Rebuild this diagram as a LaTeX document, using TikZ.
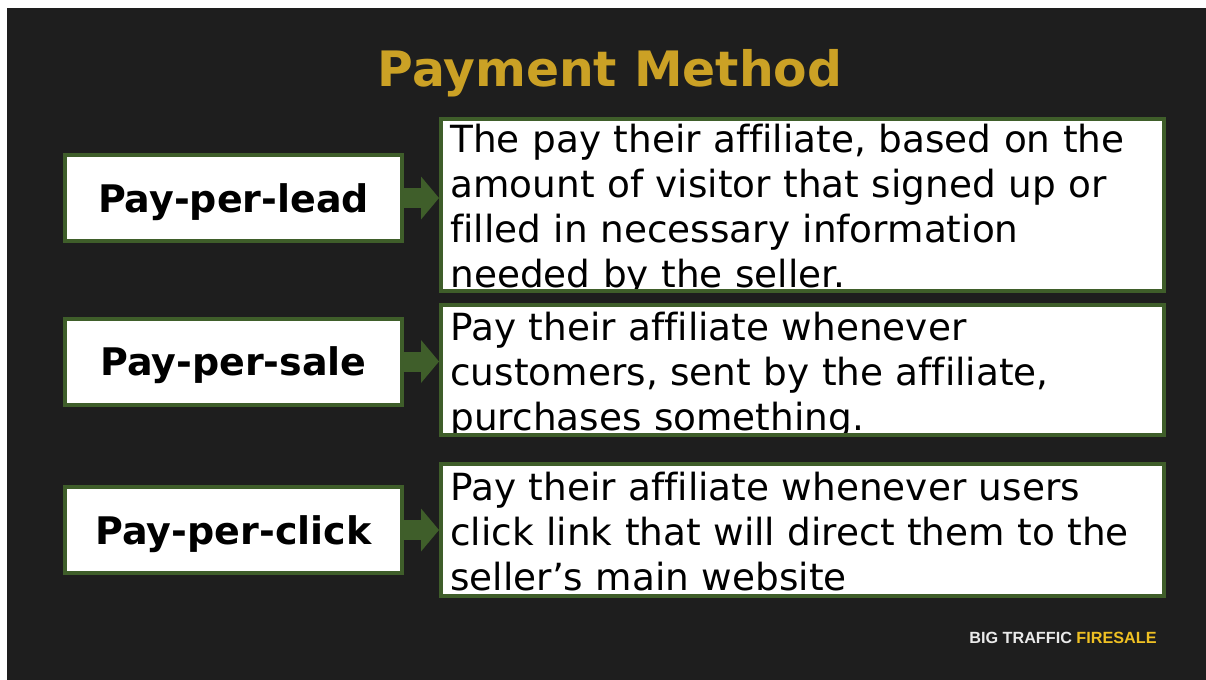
\documentclass[tikz,border=0pt]{standalone}
\usepackage{fontspec}
\setmainfont[Ligatures=NoCommon]{DejaVu Sans}
\newfontfamily\brandfont{Liberation Sans}
\usetikzlibrary{arrows.meta,positioning}
\definecolor{pmdark}{HTML}{1E1E1E}
\definecolor{pmgold}{HTML}{CBA125}
\definecolor{pmgreen}{HTML}{3F5E2A}
\definecolor{pmyellow}{HTML}{EFC023}
\definecolor{pmwhite}{HTML}{EAEAEA}

\tikzset{
  methodbox/.style={draw=pmgreen, line width=2pt, fill=white, outer sep=0pt,
    inner sep=0pt, minimum width=168.5pt, minimum height=43pt,
    text height=18pt, text depth=4pt,
    font=\bfseries\fontsize{19pt}{22pt}\selectfont},
  infobox/.style={draw=pmgreen, line width=2pt, fill=white, outer sep=0pt,
    inner sep=0pt, minimum width=361.5pt},
  infotext/.style={anchor=base west, inner sep=0pt, text width=365pt,
    align=left, font=\fontsize{18.7pt}{22.5pt}\selectfont},
  infoframe/.style={draw=pmgreen, line width=2pt},
  flow/.style={draw=pmgreen, line width=10pt, shorten <=1pt, shorten >=1pt,
    -{Triangle[length=9pt,width=21.5pt,line width=0pt]}}
}

\begin{document}
\begin{tikzpicture}[x=0.5pt,y=-0.5pt]

  % ---- background --------------------------------------------
  \fill[white] (0,0) rectangle (1206,680);
  \fill[pmdark] (7,8) rectangle (1206,680);
  \useasboundingbox (0,0) rectangle (1206,680);

  % title
  \node[anchor=base, inner sep=0pt, text=pmgold,
    font=\bfseries\fontsize{24.4pt}{28pt}\selectfont] (title) at (610,86) {Payment Method};

  % ---- methods (left) ----------------------------------------
  \node[methodbox] (lead) at (233.5,198) {Pay-per-lead};
  \node[methodbox] (sale) at (233.5,361.5) {Pay-per-sale};
  \node[methodbox] (click) at (233.5,530) {Pay-per-click};

  % ---- descriptions (right) ----------------------------------
  \node[infobox, minimum height=86pt] (leadinfo) at (802.5,205) {};
  \begin{scope}
    \clip (leadinfo.north west) rectangle (leadinfo.south east);
    \node[infotext] (leadtext) at ([shift={(9,33)}]leadinfo.north west)
      {The pay their affiliate, based on the\\amount of visitor that signed up or\\filled in necessary information\\needed by the seller.};
  \end{scope}
  \draw[infoframe] (leadinfo.north west) rectangle (leadinfo.south east);

  \node[infobox, minimum height=65pt] (saleinfo) at (802.5,370) {};
  \begin{scope}
    \clip (saleinfo.north west) rectangle (saleinfo.south east);
    \node[infotext] (saletext) at ([shift={(9,35)}]saleinfo.north west)
      {Pay their affiliate whenever\\customers, sent by the affiliate,\\purchases something.};
  \end{scope}
  \draw[infoframe] (saleinfo.north west) rectangle (saleinfo.south east);

  \node[infobox, minimum height=66pt] (clickinfo) at (802.5,530) {};
  \begin{scope}
    \clip (clickinfo.north west) rectangle (clickinfo.south east);
    \node[infotext] (clicktext) at ([shift={(9,36)}]clickinfo.north west)
      {Pay their affiliate whenever users\\click link that will direct them to the\\seller’s main website};
  \end{scope}
  \draw[infoframe] (clickinfo.north west) rectangle (clickinfo.south east);

  % ---- arrows ------------------------------------------------
  \draw[flow] (lead.east) -- (leadinfo.west |- lead.east);
  \draw[flow] (sale.east) -- (saleinfo.west |- sale.east);
  \draw[flow] (click.east) -- (clickinfo.west |- click.east);

  % footer brand
  \node[anchor=base, inner sep=0pt, font=\brandfont\bfseries\fontsize{8.1pt}{10pt}\selectfont]
    (brand) at (1063,643) {\textcolor{pmwhite}{BIG TRAFFIC} \textcolor{pmyellow}{FIRESALE}};

\end{tikzpicture}
\end{document}
